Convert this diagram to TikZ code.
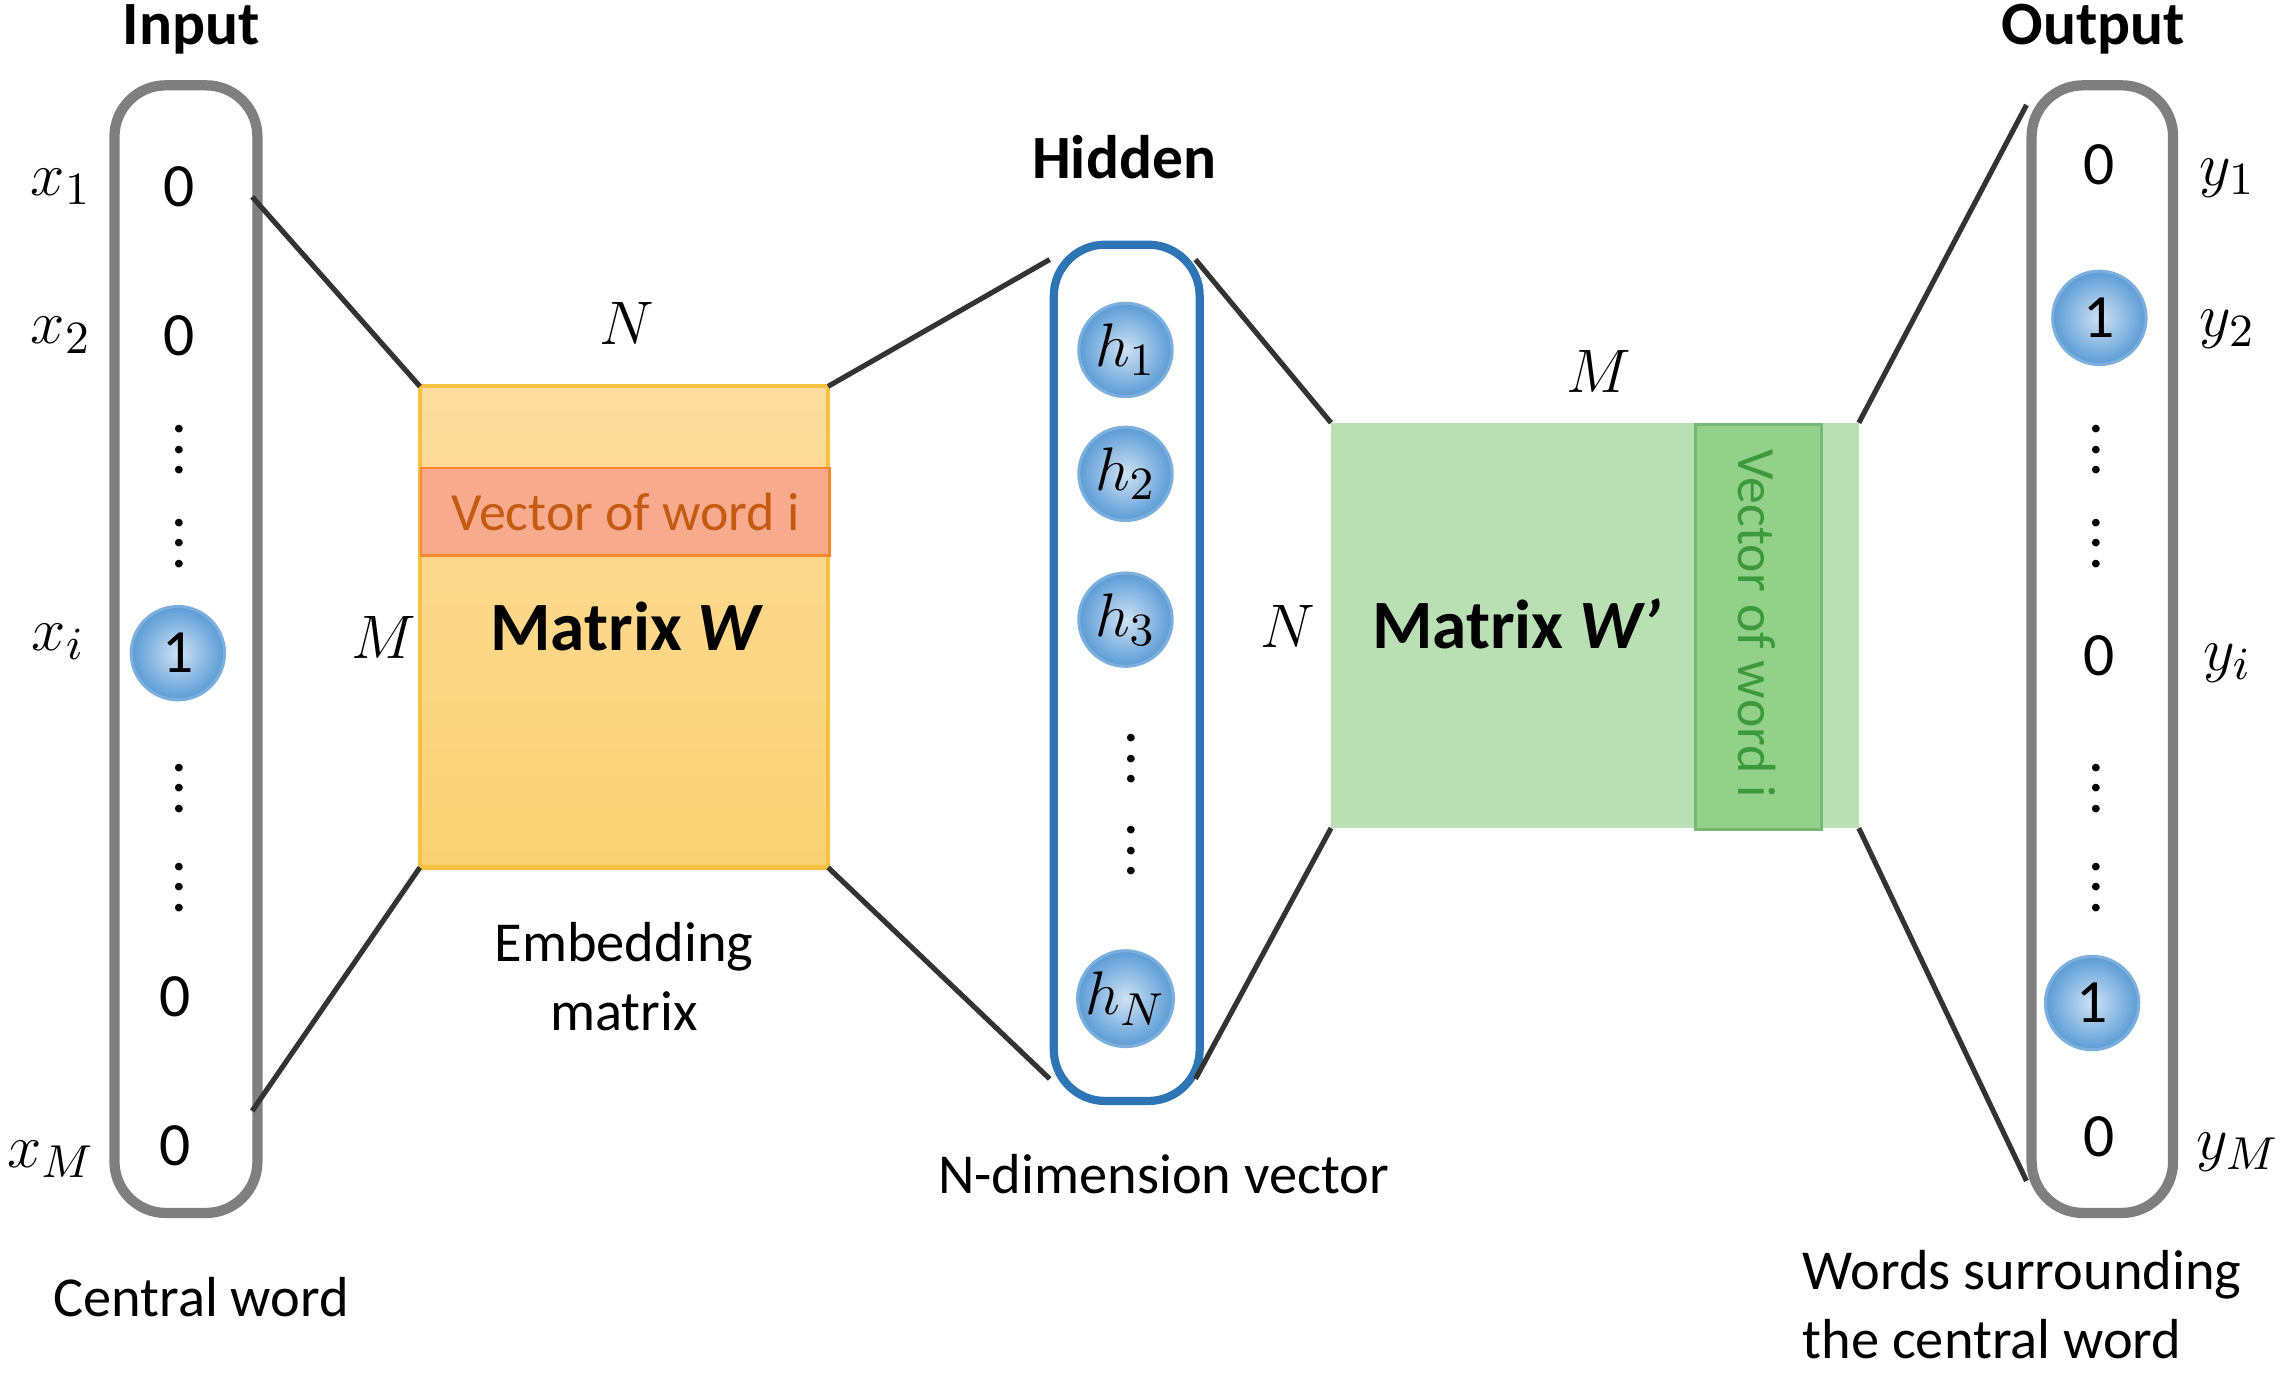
\documentclass[tikz,border=0pt]{standalone}
\usepackage{fontspec}
\setmainfont{Carlito}
\usetikzlibrary{shapes.geometric}
\definecolor{boxgray}{HTML}{7F7F7F}
\definecolor{hidblue}{HTML}{2E75B6}
\definecolor{ballin}{HTML}{CFE2F3}
\definecolor{ballout}{HTML}{5B9BD5}
\definecolor{orgtop}{HTML}{FDDC9E}
\definecolor{orgbot}{HTML}{FBD272}
\definecolor{orgline}{HTML}{F5C243}
\definecolor{redstrip}{HTML}{F8AA8C}
\definecolor{redtext}{HTML}{C55A11}
\definecolor{grn}{HTML}{B9E0B2}
\definecolor{grnstrip}{HTML}{93D18B}
\definecolor{grntext}{HTML}{3C9A3C}
\begin{document}
\begin{tikzpicture}[x=0.01cm,y=-0.01cm,
  vbox/.style={draw=boxgray,line width=2pt,rounded corners=10pt},
  conn/.style={draw=black!80,line width=1pt},
  txt/.style={font=\fontsize{11}{13.5}\selectfont},
  val/.style={font=\fontsize{12}{14}\selectfont},
  ttl/.style={font=\fontsize{12}{14}\selectfont\bfseries},
  lab/.style={font=\fontsize{13}{15}\selectfont},
  ball/.style={circle,minimum size=0.64cm,inner sep=0pt,draw=ballout!80,line width=0.6pt,inner color=ballin,outer color=ballout,font=\fontsize{12}{14}\selectfont},
  vd/.style={font=\fontsize{10}{10}\selectfont\bfseries,inner sep=0pt}]
\useasboundingbox (0,0) rectangle (1568,950);
% input
\node[vbox,minimum width=0.98cm,minimum height=7.73cm,anchor=north west] (inbox) at (75,55) {};
\node[ttl] (intl) at (131,20) {Input};
\node[val] (i1) at (123,128) {0};
\node[val] (i2) at (123,230) {0};
\node[vd] (id1) at (123,298) {$\vdots$};
\node[vd] (id2) at (123,362) {$\vdots$};
\node[ball] (ii) at (122,448) {1};
\node[vd] (id3) at (123,530) {$\vdots$};
\node[vd] (id4) at (123,598) {$\vdots$};
\node[val] (i5) at (120,684) {0};
\node[val] (i6) at (120,786) {0};
\node[lab] (x1) at (42,128) {$x_1$};
\node[lab] (x2) at (42,230) {$x_2$};
\node[lab] (xi) at (40,440) {$x_i$};
\node[lab] (xM) at (35,795) {$x_M$};
\node[txt] (cw) at (138,890) {Central word};
% matrix W
\shade[top color=orgtop,bottom color=orgbot] (288,265) rectangle (568,595);
\draw[orgline,line width=0.8pt] (288,265) rectangle (568,595);
\coordinate (wtl) at (288,265); \coordinate (wbl) at (288,595);
\coordinate (wtr) at (568,265); \coordinate (wbr) at (568,595);
\node[fill=redstrip,draw=orgline!70!red,line width=0.5pt,minimum width=2.8cm,minimum height=0.6cm,inner sep=0pt,text=redtext,font=\fontsize{10.5}{12}\selectfont,anchor=north west] (vw) at (288,320) {Vector of word i};
\node[font=\fontsize{13.5}{16}\selectfont\bfseries] (mw) at (430,430) {Matrix \textit{W}};
\node[lab] (wn) at (430,222) {$N$};
\node[lab] (wm) at (263,437) {$M$};
\node[txt,align=center] (emb) at (428,670) {Embedding\\matrix};
% hidden
\node[draw=hidblue,line width=1.6pt,rounded corners=10pt,minimum width=1cm,minimum height=5.87cm,anchor=north west] (hbox) at (720,165) {};
\node[ttl] (htl) at (771,108) {Hidden};
\node[ball,lab] (h1) at (772,240) {$h_1$};
\node[ball,lab] (h2) at (772,325) {$h_2$};
\node[ball,lab] (h3) at (772,425) {$h_3$};
\node[vd] (hd1) at (776,510) {$\vdots$};
\node[vd] (hd2) at (776,573) {$\vdots$};
\node[ball,lab] (hN) at (772,685) {$h_N$};
\node[txt] (nd) at (798,805) {N-dimension vector};
% matrix W'
\fill[grn] (913,290) rectangle (1275,568);
\coordinate (gtl) at (913,290); \coordinate (gbl) at (913,568);
\coordinate (gtr) at (1275,290); \coordinate (gbr) at (1275,568);
\node[fill=grnstrip,draw=grntext!70,line width=0.6pt,minimum width=0.86cm,minimum height=2.78cm,inner sep=0pt,anchor=north west] (vg) at (1162,290) {};
\node[rotate=-90,text=grntext,font=\fontsize{10.5}{12}\selectfont] (vgt) at (1205,428) {Vector of word i};
\node[font=\fontsize{13.5}{16}\selectfont\bfseries] (mg) at (1040,428) {Matrix \textit{W’}};
\node[lab] (gm) at (1097,255) {$M$};
\node[lab] (gn) at (883,430) {$N$};
% output
\node[vbox,minimum width=0.97cm,minimum height=7.73cm,anchor=north west] (outbox) at (1390,55) {};
\node[ttl] (otl) at (1436,20) {Output};
\node[val] (o1) at (1440,113) {0};
\node[ball] (o2) at (1440,218) {1};
\node[vd] (od1) at (1438,298) {$\vdots$};
\node[vd] (od2) at (1438,362) {$\vdots$};
\node[val] (oi) at (1440,450) {0};
\node[vd] (od3) at (1438,530) {$\vdots$};
\node[vd] (od4) at (1438,598) {$\vdots$};
\node[ball] (o6) at (1435,688) {1};
\node[val] (oM) at (1440,780) {0};
\node[lab] (y1) at (1528,122) {$y_1$};
\node[lab] (y2) at (1528,226) {$y_2$};
\node[lab] (yi) at (1528,455) {$y_i$};
\node[lab] (yM) at (1535,790) {$y_M$};
\node[txt,align=left] (sw) at (1387,895) {Words surrounding\\the central word};
% connectors
\coordinate (a1) at (173,135); \coordinate (a2) at (173,762);
\coordinate (b1) at (720,178); \coordinate (b2) at (720,740);
\coordinate (c1) at (820,178); \coordinate (c2) at (820,740);
\coordinate (d1) at (1390,72); \coordinate (d2) at (1390,810);
\draw[conn] (a1) -- (wtl); \draw[conn] (a2) -- (wbl);
\draw[conn] (wtr) -- (b1); \draw[conn] (wbr) -- (b2);
\draw[conn] (c1) -- (gtl); \draw[conn] (c2) -- (gbl);
\draw[conn] (gtr) -- (d1); \draw[conn] (gbr) -- (d2);
\end{tikzpicture}
\end{document}
